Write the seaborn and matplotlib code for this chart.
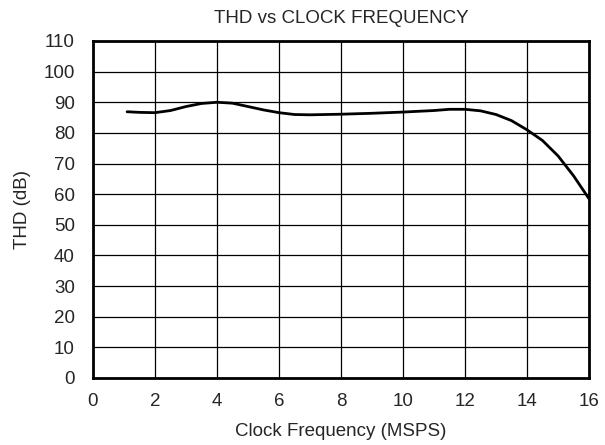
import matplotlib
matplotlib.use("Agg")
import matplotlib.pyplot as plt
import seaborn as sns
import pandas as pd

clock_mhz = [1.1, 1.5, 2.0, 2.5, 3.0, 3.5, 4.0, 4.5, 5.0, 5.5, 6.0, 6.5, 7.0, 8.0,
             9.0, 10.0, 11.0, 11.5, 12.0, 12.5, 13.0, 13.5, 14.0, 14.5, 15.0, 15.5, 16.0]
thd_db = [86.9, 86.7, 86.6, 87.3, 88.6, 89.6, 90.0, 89.7, 88.6, 87.5, 86.6, 86.0, 85.9, 86.1,
          86.4, 86.8, 87.3, 87.7, 87.7, 87.2, 86.0, 84.0, 81.0, 77.5, 72.5, 66.0, 58.5]
x_ticks = [0, 2, 4, 6, 8, 10, 12, 14, 16]
y_ticks = [0, 10, 20, 30, 40, 50, 60, 70, 80, 90, 100, 110]

df = pd.DataFrame({"clock": clock_mhz, "thd": thd_db})

sns.set_style("white")
plt.rcParams['font.family'] = ['Liberation Sans', 'DejaVu Sans']
FS = 13.5

fig = plt.figure(figsize=(6.05, 4.45), dpi=100)
ax = fig.add_axes([0.1537, 0.1506, 0.8199, 0.7573])

sns.lineplot(data=df, x="clock", y="thd", color="black", linewidth=2, ax=ax)

ax.set_xlim(0, 16)
ax.set_ylim(0, 110)
ax.set_xticks(x_ticks)
ax.set_yticks(y_ticks)
ax.grid(True, color="black", linewidth=0.9)
ax.tick_params(axis="x", length=0, labelsize=FS, pad=11)
ax.tick_params(axis="y", length=0, labelsize=FS, pad=13)
for s in ax.spines.values():
    s.set_color("black")
    s.set_linewidth(2)

ax.set_title("THD vs CLOCK FREQUENCY", fontsize=FS, pad=13)
ax.set_xlabel("Clock Frequency (MSPS)", fontsize=FS, labelpad=9)
ax.set_ylabel("THD (dB)", fontsize=FS, labelpad=9)

fig.savefig("out.png", dpi=100)
